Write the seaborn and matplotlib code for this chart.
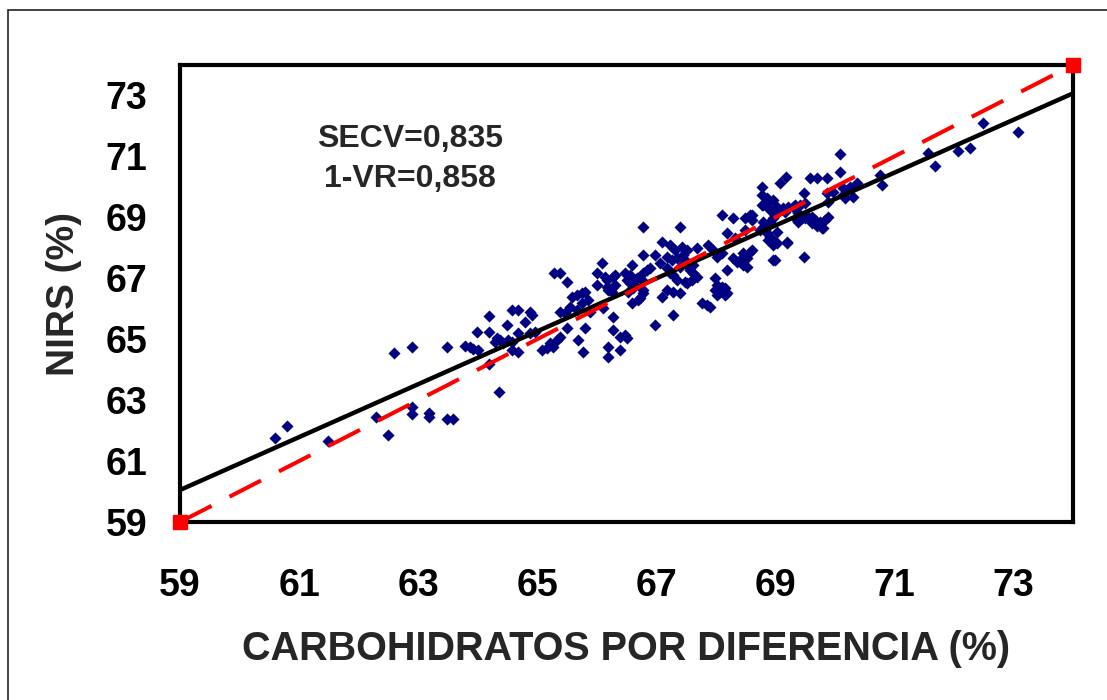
import matplotlib
matplotlib.use("Agg")
import matplotlib.pyplot as plt
import seaborn as sns
import pandas as pd
from matplotlib.patches import Rectangle

# ---- data (CARBOHIDRATOS %, NIRS %) ----
cluster_low = [(60.60, 61.76), (60.80, 62.15), (61.49, 61.66), (62.29, 62.45), (62.49, 61.86),
               (62.60, 64.55), (62.90, 64.74), (62.90, 62.77), (62.90, 62.54), (63.18, 62.58),
               (63.18, 62.45), (63.49, 64.74), (63.49, 62.38), (63.59, 62.38), (63.79, 64.78),
               (63.87, 64.74), (63.92, 64.68), (64.01, 64.65), (63.99, 65.24), (64.19, 65.24),
               (64.19, 65.76), (64.29, 64.91), (64.19, 64.19), (64.36, 63.27)]

cluster_65 = [(64.33, 65.04), (64.38, 64.97), (64.43, 64.87), (64.51, 64.97), (64.49, 65.47),
              (64.58, 65.96), (64.68, 65.96), (64.88, 65.89), (64.91, 65.79), (64.80, 65.56),
              (64.68, 65.20), (64.58, 64.65), (64.68, 64.58), (64.88, 65.20), (64.96, 65.24),
              (64.58, 64.91), (65.08, 64.65), (65.16, 64.71), (65.27, 64.74), (65.33, 64.97),
              (65.38, 65.07), (65.22, 64.87), (65.38, 65.89), (65.47, 65.86), (65.50, 65.37),
              (65.69, 64.97), (65.77, 64.58), (65.80, 65.37), (65.59, 66.38), (65.67, 66.45),
              (65.75, 66.52), (65.80, 66.55), (65.55, 66.06), (65.67, 65.96), (65.75, 66.19),
              (65.85, 66.29), (65.89, 65.89), (65.28, 67.17), (65.38, 67.17), (65.50, 66.88),
              (66.01, 66.78), (66.01, 67.17)]

cluster_66 = [(66.09, 67.50), (66.14, 67.04), (66.27, 67.04), (66.17, 66.71), (66.26, 66.68),
              (66.31, 66.78), (66.27, 65.73), (66.27, 65.30), (66.39, 65.07), (66.51, 65.04),
              (66.19, 64.74), (66.19, 64.42), (66.39, 64.65), (66.59, 67.43), (66.78, 67.76),
              (66.48, 67.17), (66.51, 66.94), (66.56, 66.84), (66.68, 67.01), (66.78, 67.17),
              (66.84, 67.27), (66.59, 66.19), (66.69, 66.29), (66.78, 66.52), (66.78, 68.68),
              (66.56, 67.11), (66.90, 67.34), (66.76, 66.94), (66.31, 67.11), (66.17, 66.94),
              (66.19, 66.61), (66.26, 66.55), (66.61, 66.88), (66.61, 66.68), (66.53, 66.55),
              (66.78, 66.61), (66.73, 66.35), (66.11, 66.02), (66.48, 65.14), (66.98, 65.47),
              (66.98, 67.76), (67.06, 67.50)]

cluster_67 = [(67.40, 68.68), (67.10, 68.19), (67.23, 68.09), (67.32, 67.93), (67.43, 68.03),
              (67.52, 67.93), (67.18, 67.70), (67.26, 67.60), (67.35, 67.66), (67.45, 67.76),
              (67.68, 67.99), (67.87, 68.09), (67.95, 67.93), (68.02, 67.70), (68.10, 67.83),
              (67.18, 67.34), (67.23, 67.17), (67.28, 67.11), (67.40, 67.37), (67.52, 67.43),
              (67.57, 67.27), (67.62, 67.17), (67.68, 67.04), (67.60, 66.94), (67.48, 66.88),
              (67.35, 66.94), (67.18, 66.61), (67.28, 66.55), (67.40, 66.52), (67.10, 66.38),
              (67.77, 66.19), (67.85, 66.12), (67.90, 66.06), (67.99, 67.01), (68.02, 66.78),
              (67.99, 66.61), (68.07, 66.55), (68.10, 66.71), (68.16, 66.68), (68.19, 66.52),
              (68.02, 66.45), (67.28, 65.79), (68.29, 67.66), (68.46, 67.83), (68.52, 67.66),
              (68.61, 67.93), (68.46, 67.43), (68.36, 67.53), (68.52, 67.37), (68.19, 67.27),
              (68.10, 69.08), (68.29, 68.98), (68.49, 68.98), (68.61, 69.08), (68.19, 68.49),
              (68.49, 68.58), (68.32, 68.32), (68.61, 68.91), (68.41, 67.60), (67.48, 67.60),
              (67.62, 67.43), (68.16, 66.45), (67.52, 66.84)]

cluster_69 = [(68.79, 69.40), (68.91, 69.24), (69.00, 69.08), (69.13, 69.31), (69.30, 69.34),
              (68.86, 68.49), (68.94, 68.26), (69.03, 68.16), (69.20, 68.19), (68.96, 67.60),
              (70.09, 71.08), (70.09, 70.49), (69.18, 70.32), (69.08, 70.13), (69.58, 70.29),
              (69.70, 70.29), (69.87, 70.29), (69.48, 69.80), (69.87, 69.80), (69.97, 69.83),
              (70.14, 69.96), (70.25, 69.99), (70.37, 70.13), (69.89, 69.50), (70.14, 69.73),
              (70.31, 69.67), (69.21, 69.34), (69.33, 69.40), (69.42, 69.40), (69.50, 69.47),
              (69.03, 69.14), (69.16, 69.17), (69.36, 68.91), (69.50, 68.98), (69.62, 69.01),
              (69.67, 68.91), (69.75, 68.85), (69.83, 68.91), (69.89, 69.01), (69.70, 68.75),
              (69.80, 68.65), (68.91, 68.85), (68.83, 68.58), (68.91, 68.35), (69.03, 68.52),
              (69.00, 68.19), (69.20, 68.16), (69.00, 67.60), (69.48, 67.70), (70.76, 70.39),
              (70.79, 70.06), (68.88, 69.50), (68.96, 69.57), (68.96, 69.17), (69.03, 69.34),
              (69.38, 69.14), (69.45, 68.98), (69.38, 68.85), (69.55, 69.01), (69.62, 68.81),
              (69.70, 68.72), (69.78, 68.65), (68.57, 69.08), (68.79, 68.85), (68.96, 68.98),
              (68.86, 68.75), (68.74, 68.58), (68.88, 68.26), (68.96, 68.09), (68.57, 67.86),
              (70.17, 69.63), (70.20, 69.90), (68.78, 69.99), (68.78, 69.73), (68.86, 69.63),
              (68.78, 69.40), (68.88, 69.34)]

cluster_high = [(71.57, 71.11), (71.68, 70.68), (72.07, 71.18), (72.27, 71.27), (72.49, 72.10),
                (73.08, 71.80)]

# regression line (black) and 1:1 line (red dashed)
fit_x = [59.0, 74.0]
fit_y = [60.05, 73.07]
identity = [59.0, 74.0]

ticks = [59, 61, 63, 65, 67, 69, 71, 73]
stats_lines = ["SECV=0,835", "1-VR=0,858"]
x_title = "CARBOHIDRATOS POR DIFERENCIA (%)"
y_title = "NIRS (%)"

# ---- figure ----
sns.set_style("white")
plt.rcParams['font.family'] = ['Liberation Sans', 'DejaVu Sans']
plt.rcParams['font.weight'] = 'bold'

W, H = 1107, 700
fig = plt.figure(figsize=(W / 100, H / 100), dpi=100)
fig.patch.set_facecolor('white')
ax = fig.add_axes([180 / W, 1 - 522 / H, 893 / W, 457 / H])

points = cluster_low + cluster_65 + cluster_66 + cluster_67 + cluster_69 + cluster_high
df = pd.DataFrame(points, columns=['carbohidratos', 'nirs'])

sns.scatterplot(data=df, x='carbohidratos', y='nirs', marker='D', s=38,
                color='#000080', linewidth=0, ax=ax, zorder=2, legend=False)
sns.lineplot(x=fit_x, y=fit_y, color='black', lw=3.2, ax=ax, zorder=3)
ax.plot(identity, identity, color='#ff0000', lw=2.9, dashes=(8.8, 5.0),
        zorder=4, clip_on=False, solid_capstyle='butt', dash_capstyle='butt')
ax.plot(identity, identity, ls='none', marker='s', ms=9.5, color='#ff0000',
        mec='#ff0000', clip_on=False, zorder=6)

ax.set_xlim(59, 74)
ax.set_ylim(59, 74)
ax.set_xticks(ticks)
ax.set_yticks(ticks)
ax.set_xticklabels([str(t) for t in ticks])
ax.set_yticklabels([str(t) for t in ticks])

for sp in ax.spines.values():
    sp.set_linewidth(3.0)
    sp.set_color('black')
    sp.set_zorder(5)

ax.tick_params(axis='both', direction='out', length=9.4, width=1.0, color='#555555',
               labelsize=27, labelcolor='black')
ax.tick_params(axis='y', pad=14)
ax.tick_params(axis='x', pad=24)
for lbl in ax.get_xticklabels() + ax.get_yticklabels():
    lbl.set_fontweight('bold')

ax.set_xlabel(x_title, fontsize=28.5, fontweight='bold', va='center')
ax.set_ylabel(y_title, fontsize=28, fontweight='bold', va='center')
ax.xaxis.set_label_coords(0.5, (522 - 649) / 457)
ax.yaxis.set_label_coords((64 - 180) / 893, 0.5)

ax.text(62.86, 71.31, stats_lines[0], ha='center', va='baseline', fontsize=23, fontweight='bold')
ax.text(62.86, 69.99, stats_lines[1], ha='center', va='baseline', fontsize=23, fontweight='bold')

# outer frame of the figure (open to the right and bottom, as in the reference)
fig.add_artist(Rectangle((8 / W, -0.2), 1.5, 1 - 10 / H + 0.2, transform=fig.transFigure,
                         fill=False, ec='#222222', lw=1.2))

fig.savefig('out.png', dpi=100, facecolor='white')
